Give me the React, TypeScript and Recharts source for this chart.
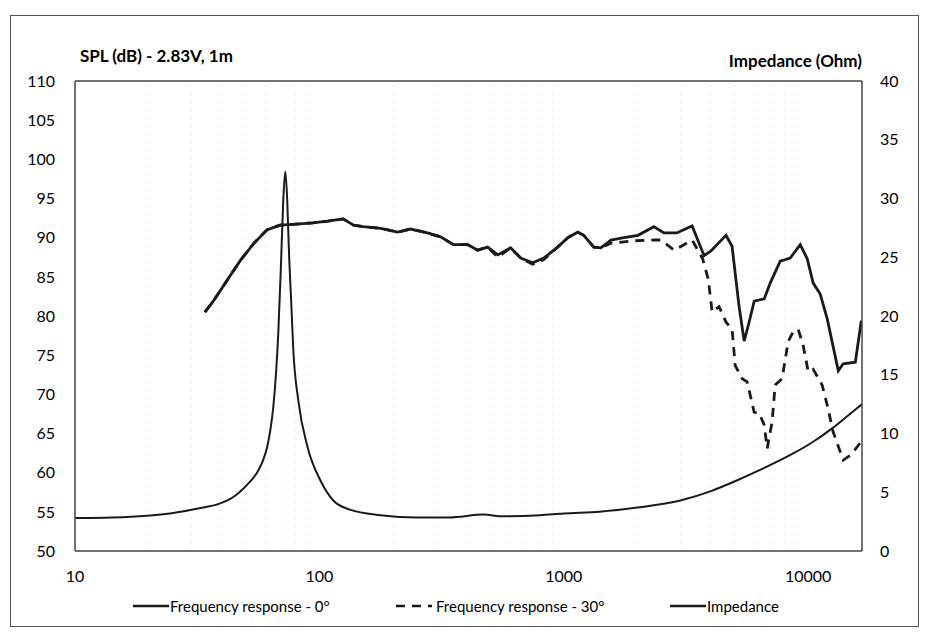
import React from "react"
import { LineChart, Line, XAxis, YAxis, ReferenceLine } from "recharts"

// SPL 0° (Hz, dB)
const spl0Freq = [34, 37, 42, 47.5, 54, 61, 69, 78, 94, 108, 125, 138, 151, 178, 209, 236, 277, 313, 354, 405, 444, 488, 537, 606, 666, 746, 828, 944, 1038, 1140, 1207, 1327, 1418, 1559, 1763, 2011, 2338, 2570, 2900, 3350, 3750, 4000, 4610, 4880, 5210, 5470, 5730, 6010, 6610, 6990, 7680, 8440, 9280, 9910, 10480, 11200, 11970, 13280, 13910, 15590, 16490]
const spl0Db = [80.5, 82.0, 84.6, 87.1, 89.3, 91.0, 91.6, 91.7, 91.9, 92.1, 92.4, 91.6, 91.4, 91.2, 90.7, 91.1, 90.6, 90.1, 89.1, 89.1, 88.4, 88.8, 87.8, 88.7, 87.4, 86.8, 87.4, 88.8, 90.0, 90.7, 90.3, 88.8, 88.7, 89.7, 90.0, 90.3, 91.4, 90.6, 90.6, 91.5, 87.7, 88.3, 90.3, 88.9, 81.3, 76.8, 79.2, 81.9, 82.2, 84.2, 87.0, 87.4, 89.1, 87.3, 84.2, 82.8, 79.6, 73.0, 73.9, 74.1, 79.4]

// SPL 30° (Hz, dB)
const spl30Freq = [34, 37, 42, 47.5, 54, 61, 69, 78, 94, 108, 125, 138, 151, 178, 209, 236, 277, 313, 354, 405, 444, 488, 537, 606, 666, 746, 828, 944, 1038, 1140, 1207, 1327, 1418, 1560, 1930, 2360, 2500, 2830, 3350, 3700, 3900, 4045, 4316, 4613, 4883, 5024, 5370, 5625, 6010, 6298, 6607, 6796, 7118, 7325, 7822, 8275, 8680, 9104, 9542, 10000, 10480, 11400, 11970, 12650, 13910, 14990, 16330, 16490]
const spl30Db = [80.5, 82.0, 84.6, 87.1, 89.3, 91.0, 91.6, 91.7, 91.9, 92.1, 92.4, 91.6, 91.4, 91.2, 90.7, 91.1, 90.6, 90.1, 89.1, 89.1, 88.4, 88.8, 87.5, 88.7, 87.4, 86.6, 87.2, 88.8, 90.0, 90.7, 90.3, 88.8, 88.7, 89.3, 89.6, 89.7, 89.7, 88.4, 89.7, 87.3, 84.7, 80.5, 81.2, 79.2, 78.3, 73.7, 72.0, 71.6, 67.7, 67.6, 66.1, 63.1, 66.5, 71.2, 72.0, 76.7, 78.0, 78.3, 76.2, 72.9, 73.2, 71.2, 68.6, 65.2, 61.6, 62.3, 63.8, 64.3]

// Impedance (Hz, Ohm)
const zFreq = [10, 16.3, 24.5, 33.5, 38, 42, 45.5, 48.8, 52, 55.7, 58.5, 61.2, 63, 64.8, 67.9, 69.8, 71.2, 72.5, 73.8, 75.2, 76.6, 78.2, 82, 89.3, 101, 114, 134, 178, 250, 340, 470, 560, 800, 1000, 1400, 2000, 3000, 4000, 5100, 6350, 8680, 10480, 12650, 14320, 16600]
const zOhm = [2.8, 2.9, 3.2, 3.7, 3.95, 4.3, 4.75, 5.3, 5.9, 6.7, 7.6, 8.9, 10.3, 12.3, 18.6, 25, 30, 32.3, 30, 25, 21.4, 17.1, 12.8, 8.9, 6.0, 4.3, 3.5, 3.05, 2.85, 2.85, 3.1, 2.95, 3.05, 3.2, 3.35, 3.7, 4.3, 5.1, 6.0, 6.9, 8.3, 9.3, 10.5, 11.4, 12.5]

const xTicks = [10, 100, 1000, 10000]
const minorTicks = [20, 30, 40, 50, 60, 70, 80, 90, 200, 300, 400, 500, 600, 700, 800, 900, 2000, 3000, 4000, 5000, 6000, 7000, 8000, 9000]
const leftTicks = [50, 55, 60, 65, 70, 75, 80, 85, 90, 95, 100, 105, 110]
const rightTicks = [0, 5, 10, 15, 20, 25, 30, 35, 40]

const spl0Data = spl0Freq.map((f, i) => ({ f, v: spl0Db[i] }))
const spl30Data = spl30Freq.map((f, i) => ({ f, v: spl30Db[i] }))
const zData = zFreq.map((f, i) => ({ f, v: zOhm[i] }))

const INK = "#1a1a1a"
const FONT = "Lato, 'Open Sans', sans-serif"

function LegendItem({ left, dashed, label }: { left: number; dashed?: boolean; label: string }) {
  return (
    <div style={{ position: "absolute", left, top: 0, display: "flex", alignItems: "center" }}>
      <svg width={36} height={6}>
        <line x1={0} y1={3} x2={36} y2={3} stroke={INK} strokeWidth={2.5} strokeDasharray={dashed ? "9 7" : undefined} />
      </svg>
      <span style={{ marginLeft: dashed ? 4 : 1 }}>{label}</span>
    </div>
  )
}

export default function App() {
  return (
    <div style={{ position: "fixed", left: 0, top: 0, width: 925, height: 632, background: "#fff", fontFamily: FONT, color: "#000" }}>
      <div style={{ position: "absolute", left: 10, top: 15, width: 907, height: 610, border: "1.5px solid #555" }} />
      <div style={{ position: "absolute", left: 80, top: 45, fontSize: 17, fontWeight: "bold" }}>SPL (dB) - 2.83V, 1m</div>
      <div style={{ position: "absolute", right: 925 - 862, top: 50, fontSize: 17, fontWeight: "bold" }}>Impedance (Ohm)</div>

      <LineChart width={925} height={632} margin={{ top: 80, right: 13, bottom: 51, left: 15 }} style={{ position: "absolute", left: 0, top: 0 }}>
        <XAxis
          dataKey="f"
          type="number"
          scale="log"
          domain={[10, 16600]}
          allowDataOverflow
          ticks={xTicks}
          tickLine={false}
          tickMargin={14}
          height={30}
          axisLine={{ stroke: "#444", strokeWidth: 1.5 }}
          tick={{ fill: "#000", fontSize: 16, fontFamily: FONT }}
        />
        <XAxis
          xAxisId="top"
          orientation="top"
          dataKey="f"
          type="number"
          scale="log"
          domain={[10, 16600]}
          allowDataOverflow
          ticks={xTicks}
          tick={false}
          tickLine={false}
          height={1}
          axisLine={{ stroke: "#444", strokeWidth: 1.5 }}
        />
        <YAxis
          yAxisId="left"
          domain={[50, 110]}
          ticks={leftTicks}
          tickLine={false}
          width={60}
          tickMargin={14}
          axisLine={{ stroke: "#444", strokeWidth: 1.5 }}
          tick={{ fill: "#000", fontSize: 16, fontFamily: FONT }}
        />
        <YAxis
          yAxisId="right"
          orientation="right"
          domain={[0, 40]}
          ticks={rightTicks}
          tickLine={false}
          width={50}
          tickMargin={12}
          axisLine={{ stroke: "#444", strokeWidth: 1.5 }}
          tick={{ fill: "#000", fontSize: 16, fontFamily: FONT, textAnchor: "start" }}
        />
        {minorTicks.map((t) => (
          <ReferenceLine key={t} x={t} yAxisId="left" stroke="#e6e6e6" strokeDasharray="2 6" />
        ))}
        <Line data={zData} dataKey="v" yAxisId="right" type="monotone" stroke={INK} strokeWidth={2} dot={false} isAnimationActive={false} />
        <Line data={spl30Data} dataKey="v" yAxisId="left" type="linear" stroke={INK} strokeWidth={2.8} strokeDasharray="9 7" dot={false} isAnimationActive={false} />
        <Line data={spl0Data} dataKey="v" yAxisId="left" type="linear" stroke={INK} strokeWidth={2.8} dot={false} isAnimationActive={false} />
      </LineChart>

      <div style={{ position: "absolute", left: 0, top: 597, width: 925, height: 22, fontSize: 15 }}>
        <LegendItem left={133} label="Frequency response - 0°" />
        <LegendItem left={396} dashed label="Frequency response - 30°" />
        <LegendItem left={670} label="Impedance" />
      </div>
    </div>
  )
}
